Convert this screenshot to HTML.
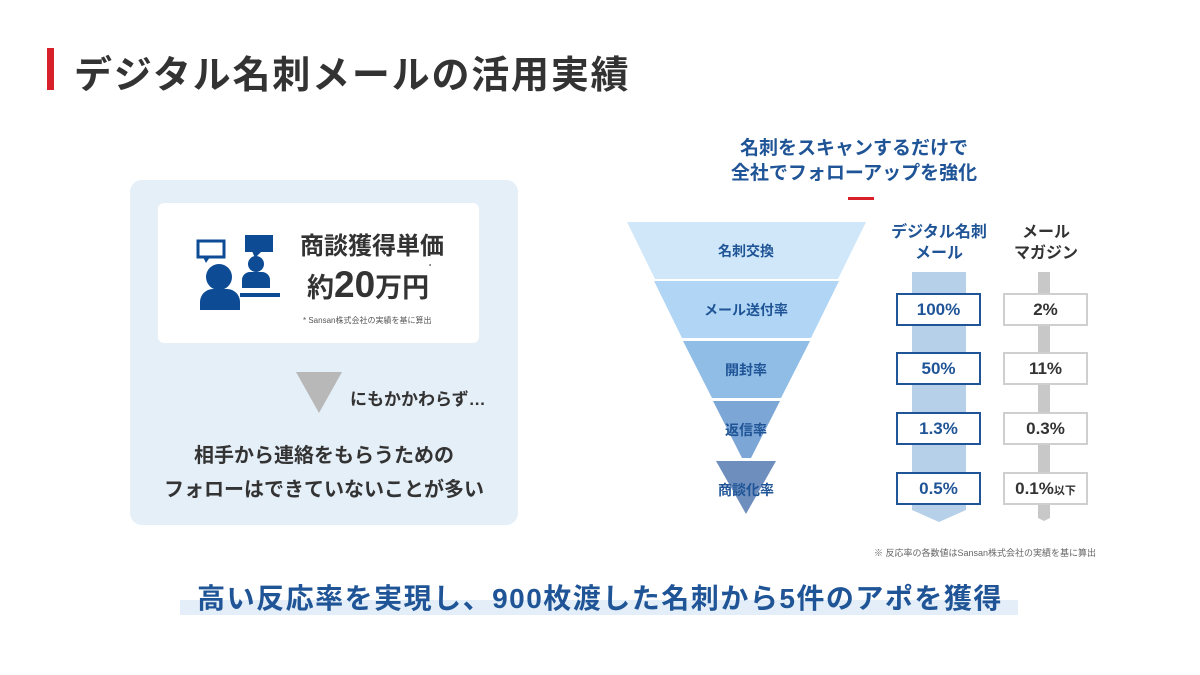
<!DOCTYPE html>
<html><head><meta charset="utf-8"><style>
body{margin:0;width:1200px;height:675px;background:#fff;position:relative;overflow:hidden;font-family:"Liberation Sans","Noto Sans CJK JP",sans-serif;}
.a{position:absolute;}
.t{white-space:nowrap;}
.box{position:absolute;width:81px;height:29px;border:2px solid;background:#fff;font-weight:bold;font-size:17px;text-align:center;line-height:29px;}
.b1{border-color:#1f5496;color:#1f5496;left:896px;}
.b2{border-color:#cfcfcf;color:#333;left:1003px;}
</style></head><body>
<div class="a" style="left:47px;top:48px;width:7px;height:42px;background:#d7202a"></div>
<div class="a t" style="left:74px;top:44px;font-size:38px;letter-spacing:1.8px;font-weight:bold;color:#333;">デジタル名刺メールの活用実績</div>

<div class="a" style="left:130px;top:180px;width:388px;height:345px;background:#e5eff8;border-radius:12px"></div>
<div class="a" style="left:158px;top:203px;width:321px;height:140px;background:#fff;border-radius:6px"></div>
<svg class="a" style="left:190px;top:228px" width="100" height="85" viewBox="0 0 100 85">
<rect x="8" y="13" width="26" height="16" fill="none" stroke="#0d4b94" stroke-width="3"/>
<polygon points="13,29 20,29 16,35" fill="#0d4b94"/>
<rect x="55" y="7" width="28" height="17" fill="#0d4b94"/>
<polygon points="62,23 72,23 65,30" fill="#0d4b94"/>
<circle cx="66" cy="36" r="8" fill="#0d4b94"/>
<path d="M52 60 v-8 a8 8 0 0 1 8 -8 h12 a8 8 0 0 1 8 8 v8z" fill="#0d4b94"/>
<circle cx="29" cy="49" r="13" fill="#0d4b94"/>
<path d="M10 82 v-8 a13 13 0 0 1 13 -13 h14 a13 13 0 0 1 13 13 v8z" fill="#0d4b94"/>
<rect x="50" y="65" width="40" height="4" fill="#0d4b94"/>
</svg>
<div class="a t" style="left:300px;top:226px;font-size:24px;font-weight:bold;color:#333;">商談獲得単価</div>
<div class="a t" style="left:307px;top:264px;font-size:27px;font-weight:bold;color:#333;">約<span style="font-size:37px">20</span>万円<span style="font-size:5px;vertical-align:top">*</span></div>
<div class="a t" style="left:303px;top:315px;font-size:8px;color:#555;">* Sansan株式会社の実績を基に算出</div>
<svg class="a" style="left:296px;top:372px" width="46" height="42"><polygon points="0,0 46,0 23,41" fill="#b8b8b8"/></svg>
<div class="a t" style="left:350px;top:385px;font-size:17px;font-weight:bold;color:#333;">にもかかわらず…</div>
<div class="a t" style="left:130px;width:388px;text-align:center;top:439px;font-size:20px;font-weight:bold;color:#333;line-height:34px;">相手から連絡をもらうための<br>フォローはできていないことが多い</div>

<div class="a t" style="left:700px;width:308px;text-align:center;top:136px;font-size:19px;font-weight:bold;color:#1f5496;line-height:25px;">名刺をスキャンするだけで<br>全社でフォローアップを強化</div>
<div class="a" style="left:848px;top:197px;width:26px;height:3px;background:#d7202a"></div>

<svg class="a" style="left:0;top:0" width="1200" height="675">
<polygon points="627,222 866,222 838,279 655,279" fill="#cfe7f9"/>
<polygon points="654,281 839,281 811,338 682,338" fill="#b1d6f5"/>
<polygon points="683,341 810,341 781,398 712,398" fill="#90bde6"/>
<polygon points="713,401 780,401 751,458 742,458" fill="#7ca6d6" />
<polygon points="716,461 776,461 746,514" fill="#6e8fbe"/>
<polygon points="912,272 966,272 966,510 939,522 912,510" fill="#b5d0e8"/>
<polygon points="1038,272 1050,272 1050,518 1044,521 1038,518" fill="#c8c8c8"/>
</svg>
<div class="a t" style="left:646px;width:200px;text-align:center;top:241px;font-size:14px;font-weight:bold;color:#1f5496;">名刺交換</div>
<div class="a t" style="left:646px;width:200px;text-align:center;top:300px;font-size:14px;font-weight:bold;color:#1f5496;">メール送付率</div>
<div class="a t" style="left:646px;width:200px;text-align:center;top:360px;font-size:14px;font-weight:bold;color:#1f5496;">開封率</div>
<div class="a t" style="left:646px;width:200px;text-align:center;top:420px;font-size:14px;font-weight:bold;color:#1f5496;">返信率</div>
<div class="a t" style="left:646px;width:200px;text-align:center;top:480px;font-size:14px;font-weight:bold;color:#1f5496;">商談化率</div>

<div class="a t" style="left:879px;width:120px;text-align:center;top:222px;font-size:16px;font-weight:bold;color:#1f5496;line-height:21px;">デジタル名刺<br>メール</div>
<div class="a t" style="left:996px;width:100px;text-align:center;top:222px;font-size:16px;font-weight:bold;color:#333;line-height:21px;">メール<br>マガジン</div>

<div class="box b1" style="top:293px">100%</div>
<div class="box b1" style="top:352px">50%</div>
<div class="box b1" style="top:412px">1.3%</div>
<div class="box b1" style="top:472px">0.5%</div>
<div class="box b2" style="top:293px">2%</div>
<div class="box b2" style="top:352px">11%</div>
<div class="box b2" style="top:412px">0.3%</div>
<div class="box b2" style="top:472px">0.1%<span style="font-size:11px">以下</span></div>

<div class="a t" style="left:874px;top:546px;font-size:9px;color:#666;">※ 反応率の各数値はSansan株式会社の実績を基に算出</div>

<div class="a" style="left:180px;top:600px;width:838px;height:15px;background:#e3eef8"></div>
<div class="a t" style="left:0;width:1200px;text-align:center;top:577px;font-size:28px;letter-spacing:1.5px;font-weight:bold;color:#1f5496;">高い反応率を実現し、900枚渡した名刺から5件のアポを獲得</div>
</body></html>
